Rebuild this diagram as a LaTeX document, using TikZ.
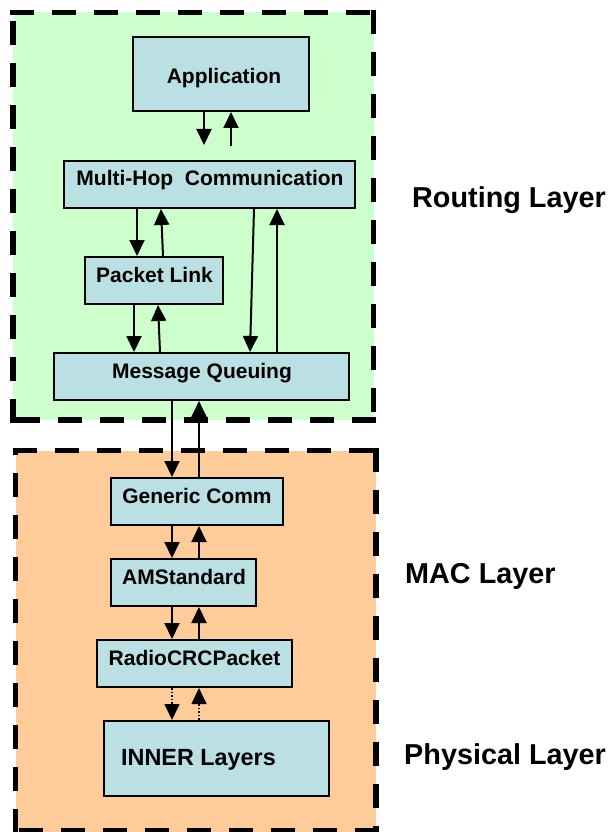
\documentclass[tikz,border=0pt]{standalone}
\usepackage{fontspec}
\setmainfont{Liberation Sans}
\usetikzlibrary{arrows.meta}
\definecolor{routingbg}{HTML}{CCFFCC}
\definecolor{macbg}{HTML}{FFCC99}
\definecolor{boxfill}{HTML}{BAE0E3}

\begin{document}
\begin{tikzpicture}[x=1pt,y=-1pt,
  box/.style={draw=black, line width=2pt, fill=boxfill, inner sep=0pt, minimum height=47pt},
  boxtext/.style={font=\fontsize{21}{25}\selectfont\bfseries, inner sep=0pt, anchor=base},
  layertext/.style={font=\fontsize{28.8}{34}\selectfont\bfseries, inner sep=0pt, anchor=base west},
  arr/.style={line width=2pt, -{Triangle[width=15pt,length=16pt]}},
  dotarr/.style={arr, line width=1.6pt, dash pattern=on 1.6pt off 2pt},
  border/.style={line width=5.7pt, dash pattern=on 24pt off 18pt}
]
\useasboundingbox (0,0) rectangle (609,832);

% layer backgrounds
\fill[routingbg] (13,12.5) rectangle (373.5,420);
\fill[macbg] (15.5,450.5) rectangle (376,832);

% dashed layer borders, each side starting with a dash at its corner
\draw[border] (10.15,12.5) -- (376.35,12.5);
\draw[border] (373.5,9.65) -- (373.5,422.85);
\draw[border] (376.35,420) -- (10.15,420);
\draw[border] (13,422.85) -- (13,9.65);

\draw[border] (12.65,450.5) -- (378.85,450.5);
\draw[border] (376,447.65) -- (376,833.35);
\draw[border] (378.85,830.5) -- (12.65,830.5);
\draw[border] (15.5,833.35) -- (15.5,447.65);

% component boxes
\node[box, minimum width=176pt, minimum height=74pt] (app) at (221,74) {};
\node[box, minimum width=291pt] (mh) at (209.5,184.5) {};
\node[box, minimum width=138pt] (pl) at (154,280.5) {};
\node[box, minimum width=295pt] (mq) at (201.5,376.5) {};
\node[box, minimum width=172pt] (gc) at (197,501.5) {};
\node[box, minimum width=145pt] (am) at (183.5,582.5) {};
\node[box, minimum width=195pt] (rc) at (194.5,663.5) {};
\node[box, minimum width=225pt, minimum height=75pt] (inner) at (216.5,758.5) {};

% box captions
\node[boxtext] (appT) at (224,84) {Application};
\node[boxtext] (mhT) at (210,185.7) {Multi-Hop~~Communication};
\node[boxtext] (plT) at (154.5,282.5) {Packet Link};
\node[boxtext] (mqT) at (202,378.3) {Message Queuing};
\node[boxtext] (gcT) at (197,503.3) {Generic Comm};
\node[boxtext] (amT) at (184,584.3) {AMStandard};
\node[boxtext] (rcT) at (194.5,665.7) {RadioCRCPacket};
\node[boxtext, font=\fontsize{23.4}{28}\selectfont\bfseries] (innerT) at (198.5,765) {INNER Layers};

% layer names
\node[layertext] (routing) at (412,207) {Routing Layer};
\node[layertext] (mac) at (405,583) {MAC Layer};
\node[layertext] (phys) at (404,764) {Physical Layer};

% connectors
\coordinate (appDown) at (204,145);
\coordinate (appUp) at (231,146);
\draw[arr] (app.south -| appDown) -- (appDown);
\draw[arr] (appUp) -- (app.south -| appUp);

\draw[arr] (mh.south -| 137,0) -- (pl.north -| 137,0);
\draw[arr] (pl.north -| 163,0) -- (mh.south -| 161,0);
\draw[arr] (pl.south -| 134,0) -- (mq.north -| 134,0);
\draw[arr] (mq.north -| 160,0) -- (pl.south -| 158,0);
\draw[arr] (mh.south -| 254,0) -- (mq.north -| 250,0);
\draw[arr] (mq.north -| 277,0) -- (mh.south -| 277,0);

\draw[arr] (mq.south -| 172,0) -- (gc.north -| 172,0);
\draw[arr] (gc.north -| 199,0) -- (mq.south -| 199,0);
\draw[arr] (gc.south -| 172,0) -- (am.north -| 172,0);
\draw[arr] (am.north -| 199,0) -- (gc.south -| 199,0);
\draw[arr] (am.south -| 172,0) -- (rc.north -| 172,0);
\draw[arr] (rc.north -| 199,0) -- (am.south -| 199,0);
\draw[dotarr] (rc.south -| 172,0) -- (inner.north -| 172,0);
\draw[dotarr] (inner.north -| 199,0) -- (rc.south -| 199,0);
\end{tikzpicture}
\end{document}
